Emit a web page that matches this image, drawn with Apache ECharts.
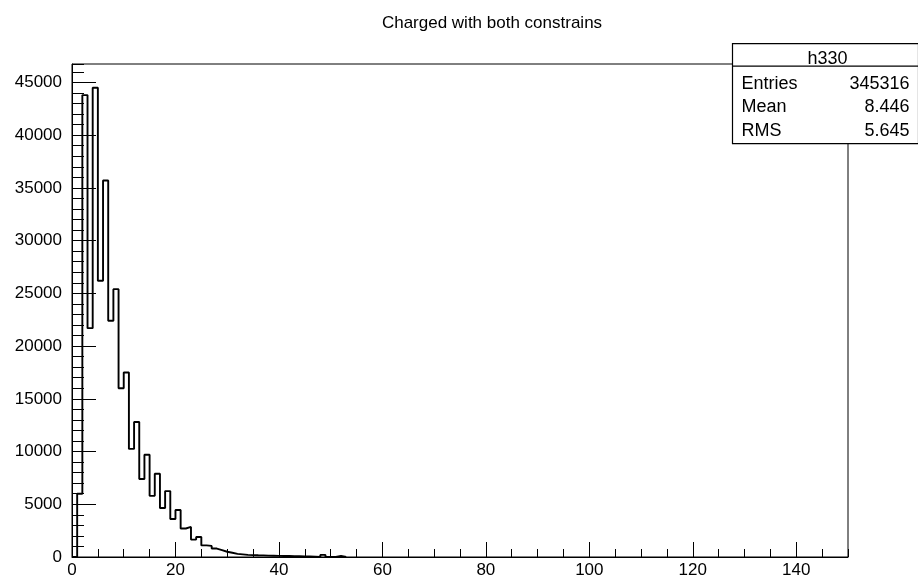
<!DOCTYPE html>
<html>
<head>
<meta charset="utf-8">
<script src="https://cdn.jsdelivr.net/npm/echarts@6/dist/echarts.min.js"></script>
<style>
html,body{margin:0;padding:0;background:#fff;}
#chart{width:918px;height:581px;}
</style>
</head>
<body>
<div id="chart"></div>
<script>
// ---- data ----
const chartTitle = 'Charged with both constrains';
const binWidth = 1;
const binStart = 0;
// counts per unit-wide bin starting at 0
const binCounts = [
  0, 6000, 43800, 21700, 44500, 26200, 35700, 22400, 25400, 16000,
  17500, 10250, 12800, 7400, 9700, 5800, 7900, 4650, 6250, 3600,
  4450, 2700, 2850, 1650, 1900, 1100, 1050, 800, 650, 500,
  400, 300, 250, 200, 180, 160, 150, 130, 120, 110,
  100, 90, 80, 70, 60, 50, 40, 0, 200, 0,
  0, 100, 0
];
const statsName = 'h330';
const statsLabels = ['Entries', 'Mean', 'RMS'];
const statsValues = ['345316', '8.446', '5.645'];
const xMin = 0, xMax = 150, xMajor = 20, xMinor = 5;
const yMin = 0, yMax = 46750, yMajor = 5000, yMinor = 1000;

// ---- build step outline from bins ----
const stepData = [[binStart, 0]];
binCounts.forEach((c, i) => stepData.push([binStart + i * binWidth, c]));
stepData.push([binStart + binCounts.length * binWidth, 0]);

const font = 'Liberation Sans, Arial, Helvetica, sans-serif';
const chart = echarts.init(document.getElementById('chart'), null, {renderer: 'canvas'});

const grid = {left: 72, right: 70, top: 64, bottom: 24, show: true, borderColor: '#000', borderWidth: 1, backgroundColor: 'transparent'};

chart.setOption({
  animation: false,
  backgroundColor: '#fff',
  title: {
    text: chartTitle, left: 487, top: 10, textAlign: 'center',
    textStyle: {fontFamily: font, fontSize: 17, fontWeight: 'normal', color: '#000'}
  },
  grid: grid,
  xAxis: [
    {type: 'value', min: xMin, max: xMax, interval: xMajor, position: 'bottom',
     axisLine: {show: true, lineStyle: {color: '#000', width: 1}},
     axisTick: {show: true, inside: true, length: 15, lineStyle: {color: '#000', width: 1}},
     axisLabel: {show: true, showMaxLabel: false, color: '#000', fontFamily: font, fontSize: 17, margin: 5,
                 formatter: v => String(v)},
     splitLine: {show: false}},
    {type: 'value', min: xMin, max: xMax, interval: xMinor, position: 'bottom',
     axisLine: {show: false},
     axisTick: {show: true, inside: true, length: 8, lineStyle: {color: '#000', width: 1}},
     axisLabel: {show: false}, splitLine: {show: false}}
  ],
  yAxis: [
    {type: 'value', min: yMin, max: yMax, interval: yMajor, position: 'left',
     axisLine: {show: true, lineStyle: {color: '#000', width: 1}},
     axisTick: {show: true, inside: true, length: 24, lineStyle: {color: '#000', width: 1}},
     axisLabel: {show: true, showMaxLabel: false, color: '#000', fontFamily: font, fontSize: 17, margin: 10,
                 formatter: v => String(v)},
     splitLine: {show: false}},
    {type: 'value', min: yMin, max: yMax, interval: yMinor, position: 'left',
     axisLine: {show: false},
     axisTick: {show: true, inside: true, length: 12, lineStyle: {color: '#000', width: 1}},
     axisLabel: {show: false}, splitLine: {show: false}}
  ],
  series: [{
    type: 'line', xAxisIndex: 0, yAxisIndex: 0, step: 'end',
    data: stepData, symbol: 'none', silent: true,
    lineStyle: {color: '#000', width: 1.9}
  }],
  graphic: [{
    type: 'group', left: 730, top: 43,
    children: [
      {type: 'rect', shape: {x: 0, y: 0, width: 186, height: 100},
       style: {fill: '#fff', stroke: '#000', lineWidth: 1.2}},
      {type: 'line', shape: {x1: 0, y1: 22.5, x2: 186, y2: 22.5}, style: {stroke: '#000', lineWidth: 1.2}},
      {type: 'text', x: 95, y: 15, style: {text: statsName, fill: '#000', font: '18px ' + font, textAlign: 'center', textVerticalAlign: 'middle'}},
      ...statsLabels.map((t, i) => ({type: 'text', x: 9, y: 40.5 + i * 23.3,
        style: {text: t, fill: '#000', font: '18px ' + font, textAlign: 'left', textVerticalAlign: 'middle'}})),
      ...statsValues.map((t, i) => ({type: 'text', x: 177, y: 40.5 + i * 23.3,
        style: {text: t, fill: '#000', font: '18px ' + font, textAlign: 'right', textVerticalAlign: 'middle'}}))
    ]
  }]
});
</script>
</body>
</html>
